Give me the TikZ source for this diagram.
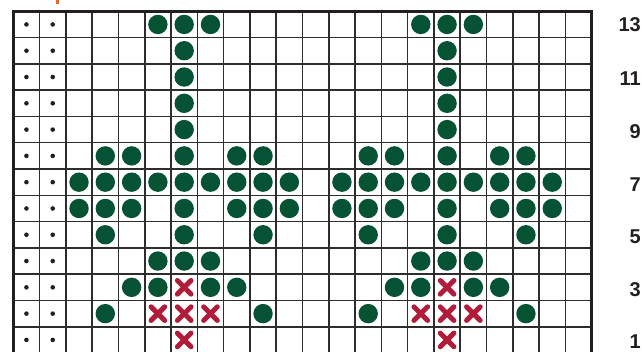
\documentclass[tikz,border=0pt]{standalone}
\usepackage{fontspec}
\setmainfont{Liberation Sans}
\definecolor{gdot}{RGB}{6,82,52}
\definecolor{xred}{RGB}{176,28,58}
\definecolor{labc}{RGB}{35,31,32}
\definecolor{gline}{RGB}{45,45,45}
\definecolor{orng}{RGB}{222,104,44}
\tikzset{
  gridline/.style={draw=gline,line width=1.5pt},
  border/.style={draw=labc,line width=2.8pt},
  xmark/.style={draw=xred,line width=5pt,line cap=round},
  rowlab/.style={anchor=east,inner sep=0pt,text=labc,font=\fontsize{20}{20}\selectfont\bfseries}
}
\begin{document}
\begin{tikzpicture}[x=1pt,y=-1pt]
\useasboundingbox (0,0) rectangle (642,352);
\fill[orng] (55.8,0) rectangle (58.6,3.6);
\begin{scope}[shift={(13.3,11.3)},x=26.29pt,y=-26.29pt]
  \foreach \i in {1,...,21} \draw[gridline] (\i,0) -- (\i,13.3);
  \foreach \j in {1,...,12} \draw[gridline] (0,\j) -- (22,\j);
  \draw[border] (0,13.3) -- (0,0) -- (22,0) -- (22,13.3);
  % dots in columns 1 and 2
  \foreach \r in {1,...,13} {
    \fill[labc] (0.5,\r-0.5) circle[radius=2.3pt];
    \fill[labc] (1.5,\r-0.5) circle[radius=2.3pt];
  }
  % green stitches: row/column lists
  \foreach \r/\cols in {
    1/{6,7,8,16,17,18},
    2/{7,17}, 3/{7,17}, 4/{7,17}, 5/{7,17},
    6/{4,5,7,9,10,14,15,17,19,20},
    7/{3,4,5,6,7,8,9,10,11,13,14,15,16,17,18,19,20,21},
    8/{3,4,5,7,9,10,11,13,14,15,17,19,20,21},
    9/{4,7,10,14,17,20},
    10/{6,7,8,16,17,18},
    11/{5,6,8,9,15,16,18,19},
    12/{4,10,14,20}} {
    \foreach \c in \cols {
      \fill[gdot] (\c-0.5,\r-0.5) circle[radius=9.7pt];
    }
  }
  % red crosses
  \foreach \r/\cols in {11/{7,17}, 12/{6,7,8,16,17,18}, 13/{7,17}} {
    \foreach \c in \cols {
      \draw[xmark] (\c-0.5-0.26,\r-0.5-0.26) -- (\c-0.5+0.26,\r-0.5+0.26);
      \draw[xmark] (\c-0.5-0.26,\r-0.5+0.26) -- (\c-0.5+0.26,\r-0.5-0.26);
    }
  }
\end{scope}
\node[rowlab] (l13) at (641,24.5) {13};
\node[rowlab] (l11) at (641,79) {11};
\node[rowlab] (l9) at (641,131.5) {9};
\node[rowlab] (l7) at (641,184.5) {7};
\node[rowlab] (l5) at (641,237) {5};
\node[rowlab] (l3) at (641,289.5) {3};
\node[rowlab] (l1) at (641,342) {1};
\end{tikzpicture}
\end{document}
